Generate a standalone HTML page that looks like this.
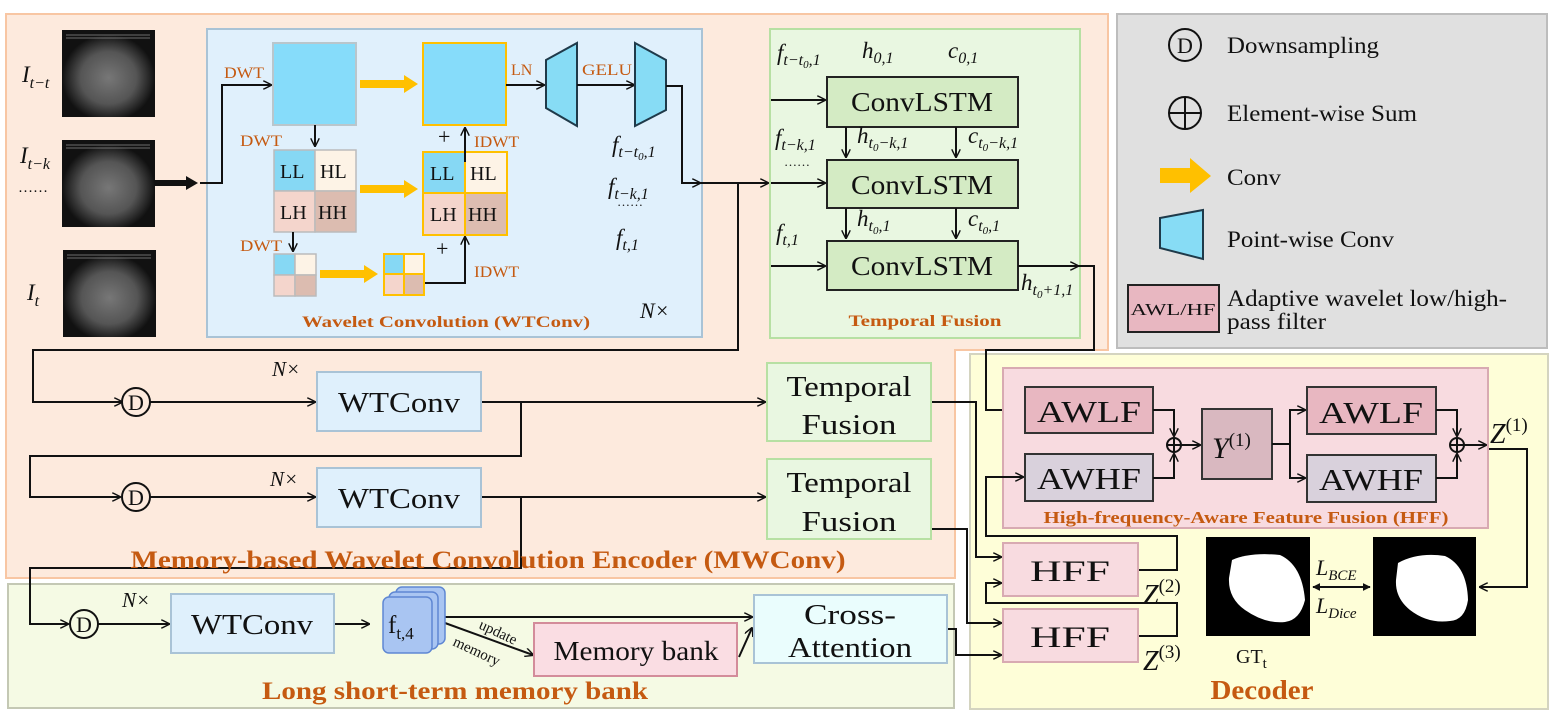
<!DOCTYPE html>
<html><head><meta charset="utf-8"><style>
html,body{margin:0;padding:0;background:#fff}
svg{display:block}
text{font-family:"Liberation Serif",serif;fill:#111}
.or{fill:#c55a11;font-weight:bold}
.m{font-style:italic}
</style></head><body>
<svg width="1551" height="712" viewBox="0 0 1551 712" xmlns="http://www.w3.org/2000/svg">
<defs>
<marker id="a" viewBox="0 0 10 10" refX="9" refY="5" markerWidth="9" markerHeight="9" orient="auto" markerUnits="userSpaceOnUse"><path d="M0,0 L10,5 L0,10" fill="none" stroke="#111" stroke-width="1.6"/></marker>
<marker id="as" viewBox="0 0 10 10" refX="9" refY="5" markerWidth="8" markerHeight="8" orient="auto-start-reverse" markerUnits="userSpaceOnUse"><path d="M0,0 L10,5 L0,10 z" fill="#111"/></marker>
<radialGradient id="us" cx="50%" cy="55%" r="50%"><stop offset="0" stop-color="#777"/><stop offset="0.6" stop-color="#555"/><stop offset="1" stop-color="#111"/></radialGradient>
<g id="yarr"><path d="M0,-4 L44,-4 L44,-9 L58,0 L44,9 L44,4 L0,4 z" fill="#ffc000"/></g>
</defs>

<path d="M6,14 H1108 V350 H955 V578 H6 Z" fill="#fdeadd" stroke="#f8c6a3" stroke-width="2"/>
<rect x="1117" y="14" width="430" height="334" fill="#e0e0e0" stroke="#bdbdbd" stroke-width="2"/>
<rect x="970" y="354" width="578" height="355" fill="#fefed8" stroke="#d4d4c0" stroke-width="2"/>
<rect x="8" y="584" width="946" height="124" fill="#f5fae4" stroke="#c4c8b4" stroke-width="2"/>
<rect x="207" y="29" width="495" height="308" fill="#e0f0fc" stroke="#a9c3d6" stroke-width="2"/>
<rect x="770" y="29" width="310" height="309" fill="#e9f7e1" stroke="#b7e0a3" stroke-width="2"/>

<g>
<rect x="62" y="30" width="93" height="87" fill="url(#us)"/>
<rect x="62" y="140" width="93" height="87" fill="url(#us)"/>
<rect x="63" y="250" width="93" height="87" fill="url(#us)"/>
<g stroke="#aaa" stroke-width="1" opacity="0.6">
<path d="M66,35 H150 M66,38 H150 M66,145 H150 M66,148 H150 M67,255 H151 M67,258 H151"/>
</g>
</g>
<text x="22" y="82" font-size="23" class="m">I<tspan font-size="16" dy="6">t−t</tspan></text>
<text x="20" y="163" font-size="23" class="m">I<tspan font-size="16" dy="6">t−k</tspan></text>
<text x="18" y="192" font-size="15">……</text>
<text x="27" y="300" font-size="23" class="m">I<tspan font-size="16" dy="6">t</tspan></text>
<path d="M155,183 H188" stroke="#111" stroke-width="6"/><path d="M186,176 L198,183 L186,190 z" fill="#111"/>
<path d="M200,183 H222 V85 H271" fill="none" stroke="#111" stroke-width="2" marker-end="url(#a)"/>

<text x="224" y="78" font-size="16" style="fill:#c55a11" textLength="40" lengthAdjust="spacingAndGlyphs">DWT</text>
<rect x="273" y="43" width="83" height="82" fill="#86dcfa" stroke="#b9c6cc" stroke-width="2"/>
<use href="#yarr" x="360" y="84"/>
<rect x="423" y="43" width="83" height="82" fill="#86dcfa" stroke="#ffc000" stroke-width="2"/>
<text x="511" y="75" font-size="16" style="fill:#c55a11">LN</text>
<path d="M506,85 H544" stroke="#111" stroke-width="2" marker-end="url(#a)"/>
<polygon points="546,60 577,43 577,126 546,108" fill="#87dcf5" stroke="#1f3a4a" stroke-width="2"/>
<text x="582" y="75" font-size="16" style="fill:#c55a11" textLength="50" lengthAdjust="spacingAndGlyphs">GELU</text>
<path d="M577,85 H634" stroke="#111" stroke-width="2" marker-end="url(#a)"/>
<polygon points="635,43 666,60 666,110 635,126" fill="#87dcf5" stroke="#1f3a4a" stroke-width="2"/>
<path d="M666,86 H682 V183 H700" fill="none" stroke="#111" stroke-width="2" marker-end="url(#a)"/>
<path d="M700,183 H768" fill="none" stroke="#111" stroke-width="2" marker-end="url(#a)"/>
<path d="M738,183 V350 H33 V402 H122" fill="none" stroke="#111" stroke-width="2" marker-end="url(#a)"/>

<text x="240" y="146" font-size="16" style="fill:#c55a11" textLength="42" lengthAdjust="spacingAndGlyphs">DWT</text>
<path d="M315,125 V146" stroke="#111" stroke-width="2" marker-end="url(#a)"/>
<g stroke="#bbb" stroke-width="1.5">
<rect x="274" y="150" width="41" height="41" fill="#86d8f4"/><rect x="315" y="150" width="41" height="41" fill="#fdf3e6"/>
<rect x="274" y="191" width="41" height="41" fill="#f4d5cc"/><rect x="315" y="191" width="41" height="41" fill="#dcbcb0"/>
</g>
<text x="280" y="178" font-size="20">LL</text><text x="320" y="178" font-size="20">HL</text>
<text x="280" y="219" font-size="20">LH</text><text x="318" y="219" font-size="20">HH</text>
<use href="#yarr" x="360" y="189"/>
<g stroke="#ffc000" stroke-width="2">
<rect x="423" y="152" width="42" height="41" fill="#86d8f4"/><rect x="465" y="152" width="42" height="41" fill="#fdf3e6"/>
<rect x="423" y="193" width="42" height="42" fill="#f4d5cc"/><rect x="465" y="193" width="42" height="42" fill="#dcbcb0"/>
</g>
<text x="430" y="180" font-size="20">LL</text><text x="470" y="180" font-size="20">HL</text>
<text x="430" y="221" font-size="20">LH</text><text x="468" y="221" font-size="20">HH</text>
<path d="M465,162 V128" stroke="#111" stroke-width="2" marker-end="url(#a)"/>
<text x="438" y="144" font-size="22">+</text>
<text x="474" y="147" font-size="16" style="fill:#c55a11" textLength="45" lengthAdjust="spacingAndGlyphs">IDWT</text>
<text x="240" y="251" font-size="16" style="fill:#c55a11" textLength="42" lengthAdjust="spacingAndGlyphs">DWT</text>
<path d="M293,232 V251" stroke="#111" stroke-width="2" marker-end="url(#a)"/>
<g stroke="#bbb" stroke-width="1.5">
<rect x="274" y="254" width="21" height="21" fill="#86d8f4"/><rect x="295" y="254" width="21" height="21" fill="#fdf3e6"/>
<rect x="274" y="275" width="21" height="21" fill="#f4d5cc"/><rect x="295" y="275" width="21" height="21" fill="#dcbcb0"/>
</g>
<path d="M320,270 H364 V265 L378,274 L364,283 V278 H320 z" fill="#ffc000"/>
<g stroke="#ffc000" stroke-width="2">
<rect x="384" y="254" width="20" height="20" fill="#86d8f4"/><rect x="404" y="254" width="20" height="20" fill="#fdf3e6"/>
<rect x="384" y="274" width="20" height="21" fill="#f4d5cc"/><rect x="404" y="274" width="20" height="21" fill="#dcbcb0"/>
</g>
<path d="M425,283 H465 V237" fill="none" stroke="#111" stroke-width="2" marker-end="url(#a)"/>
<text x="436" y="256" font-size="22">+</text>
<text x="474" y="277" font-size="16" style="fill:#c55a11" textLength="45" lengthAdjust="spacingAndGlyphs">IDWT</text>
<text x="612" y="152" font-size="23" class="m">f<tspan font-size="16" dy="5">t−t</tspan><tspan font-size="11" dy="3">0</tspan><tspan font-size="16" dy="-3">,1</tspan></text>
<text x="608" y="194" font-size="23" class="m">f<tspan font-size="16" dy="5">t−k,1</tspan></text>
<text x="617" y="206" font-size="13">……</text>
<text x="616" y="245" font-size="23" class="m">f<tspan font-size="16" dy="5">t,1</tspan></text>
<text x="640" y="318" font-size="22" class="m">N×</text>
<text x="446" y="327" font-size="16" text-anchor="middle" class="or" style="fill:#c55a11" textLength="288" lengthAdjust="spacingAndGlyphs">Wavelet Convolution (WTConv)</text>

<text x="777" y="60" font-size="23" class="m">f<tspan font-size="16" dy="5">t−t</tspan><tspan font-size="11" dy="3">0</tspan><tspan font-size="16" dy="-3">,1</tspan></text>
<text x="862" y="58" font-size="23" class="m">h<tspan font-size="16" dy="5">0,1</tspan></text>
<text x="948" y="58" font-size="23" class="m">c<tspan font-size="16" dy="5">0,1</tspan></text>
<g fill="#d4ebc4" stroke="#222" stroke-width="2">
<rect x="827" y="77" width="191" height="50"/><rect x="827" y="160" width="191" height="48"/><rect x="827" y="241" width="191" height="49"/>
</g>
<text x="922" y="111" font-size="27" text-anchor="middle" textLength="142" lengthAdjust="spacingAndGlyphs">ConvLSTM</text>
<text x="922" y="194" font-size="27" text-anchor="middle" textLength="142" lengthAdjust="spacingAndGlyphs">ConvLSTM</text>
<text x="922" y="275" font-size="27" text-anchor="middle" textLength="142" lengthAdjust="spacingAndGlyphs">ConvLSTM</text>
<g stroke="#111" stroke-width="2" fill="none">
<path d="M771,100 H825" marker-end="url(#a)"/><path d="M771,266 H825" marker-end="url(#a)"/><path d="M771,183 H825" marker-end="url(#a)"/>
<path d="M846,127 V157" marker-end="url(#a)"/><path d="M956,127 V157" marker-end="url(#a)"/>
<path d="M846,208 V238" marker-end="url(#a)"/><path d="M956,208 V238" marker-end="url(#a)"/>
<path d="M1018,266 H1078" marker-end="url(#a)"/>
<path d="M1078,266 H1094 V350 H986 V410 H1023" marker-end="url(#a)"/>
</g>
<text x="775" y="145" font-size="23" class="m">f<tspan font-size="16" dy="5">t−k,1</tspan></text>
<text x="784" y="166" font-size="13">……</text>
<text x="857" y="143" font-size="23" class="m">h<tspan font-size="16" dy="5">t</tspan><tspan font-size="11" dy="3">0</tspan><tspan font-size="16" dy="-3">−k,1</tspan></text>
<text x="968" y="143" font-size="23" class="m">c<tspan font-size="16" dy="5">t</tspan><tspan font-size="11" dy="3">0</tspan><tspan font-size="16" dy="-3">−k,1</tspan></text>
<text x="857" y="226" font-size="23" class="m">h<tspan font-size="16" dy="5">t</tspan><tspan font-size="11" dy="3">0</tspan><tspan font-size="16" dy="-3">,1</tspan></text>
<text x="968" y="226" font-size="23" class="m">c<tspan font-size="16" dy="5">t</tspan><tspan font-size="11" dy="3">0</tspan><tspan font-size="16" dy="-3">,1</tspan></text>
<text x="776" y="240" font-size="23" class="m">f<tspan font-size="16" dy="5">t,1</tspan></text>
<text x="1021" y="290" font-size="23" class="m">h<tspan font-size="16" dy="5">t</tspan><tspan font-size="11" dy="3">0</tspan><tspan font-size="16" dy="-3">+1,1</tspan></text>
<text x="925" y="326" font-size="16" text-anchor="middle" class="or" style="fill:#c55a11" textLength="153" lengthAdjust="spacingAndGlyphs">Temporal Fusion</text>

<circle cx="1185" cy="45" r="16" fill="none" stroke="#111" stroke-width="2"/>
<text x="1185" y="53" font-size="22" text-anchor="middle">D</text>
<text x="1227" y="53" font-size="23" textLength="152" lengthAdjust="spacingAndGlyphs">Downsampling</text>
<circle cx="1185" cy="113" r="16" fill="none" stroke="#111" stroke-width="2"/>
<path d="M1169,113 H1201 M1185,97 V129" stroke="#111" stroke-width="2"/>
<text x="1227" y="121" font-size="23" textLength="190" lengthAdjust="spacingAndGlyphs">Element-wise Sum</text>
<path d="M1160,168 H1190 V158 L1211,176 L1190,193 V183 H1160 z" fill="#ffc000"/>
<text x="1227" y="185" font-size="23" textLength="54" lengthAdjust="spacingAndGlyphs">Conv</text>
<polygon points="1160,218 1203,210 1203,259 1160,248" fill="#87dcf5" stroke="#1f3a4a" stroke-width="2"/>
<text x="1227" y="247" font-size="23" textLength="167" lengthAdjust="spacingAndGlyphs">Point-wise Conv</text>
<rect x="1128" y="285" width="91" height="47" fill="#e8b7c1" stroke="#222" stroke-width="2"/>
<text x="1173" y="315" font-size="17" text-anchor="middle" textLength="85" lengthAdjust="spacingAndGlyphs">AWL/HF</text>
<text x="1227" y="306" font-size="23" textLength="280" lengthAdjust="spacingAndGlyphs">Adaptive wavelet low/high-</text>
<text x="1227" y="329" font-size="23" textLength="99" lengthAdjust="spacingAndGlyphs">pass filter</text>

<g stroke="#111" stroke-width="2" fill="none">
<circle cx="136" cy="402" r="14" fill="#fdeadd"/>
<circle cx="136" cy="497" r="14" fill="#fdeadd"/>
<circle cx="84" cy="624" r="14" fill="#f5fae4"/>
<path d="M150,402 H315" marker-end="url(#a)"/>
<path d="M481,402 H765" marker-end="url(#a)"/>
<path d="M521,402 V456 H30 V497 H120" marker-end="url(#a)"/>
<path d="M150,497 H315" marker-end="url(#a)"/>
<path d="M481,497 H765" marker-end="url(#a)"/>
<path d="M521,497 V568 H30 V624 H68" marker-end="url(#a)"/>
<path d="M98,624 H169" marker-end="url(#a)"/>
<path d="M334,624 H369" marker-end="url(#a)"/>
<path d="M445,617 H752" marker-end="url(#a)"/>
<path d="M445,623 L533,655" marker-end="url(#a)"/>
<path d="M739,657 L752,628" marker-end="url(#a)"/>
<path d="M931,402 H976 V557 H1001" marker-end="url(#a)"/>
<path d="M931,529 H967 V623 H1001" marker-end="url(#a)"/>
<path d="M947,629 H956 V655 H1001" marker-end="url(#a)"/>
</g>
<text x="136" y="410" font-size="22" text-anchor="middle">D</text>
<text x="136" y="505" font-size="22" text-anchor="middle">D</text>
<text x="84" y="632" font-size="22" text-anchor="middle">D</text>
<g fill="#dff0fc" stroke="#a9c3d6" stroke-width="2">
<rect x="317" y="372" width="164" height="59"/><rect x="317" y="468" width="164" height="59"/><rect x="171" y="594" width="163" height="59"/>
</g>
<text x="399" y="412" font-size="29" text-anchor="middle" textLength="122" lengthAdjust="spacingAndGlyphs">WTConv</text>
<text x="399" y="508" font-size="29" text-anchor="middle" textLength="122" lengthAdjust="spacingAndGlyphs">WTConv</text>
<text x="252" y="634" font-size="29" text-anchor="middle" textLength="122" lengthAdjust="spacingAndGlyphs">WTConv</text>
<text x="272" y="376" font-size="21" class="m">N×</text>
<text x="270" y="486" font-size="21" class="m">N×</text>
<text x="122" y="607" font-size="21" class="m">N×</text>
<g fill="#e9f7e1" stroke="#b7e0a3" stroke-width="2">
<rect x="767" y="363" width="164" height="78"/><rect x="767" y="459" width="164" height="80"/>
</g>
<text x="849" y="396" font-size="29" text-anchor="middle" textLength="125" lengthAdjust="spacingAndGlyphs">Temporal</text>
<text x="849" y="434" font-size="29" text-anchor="middle" textLength="95" lengthAdjust="spacingAndGlyphs">Fusion</text>
<text x="849" y="492" font-size="29" text-anchor="middle" textLength="125" lengthAdjust="spacingAndGlyphs">Temporal</text>
<text x="849" y="531" font-size="29" text-anchor="middle" textLength="95" lengthAdjust="spacingAndGlyphs">Fusion</text>
<text x="488" y="568" font-size="25" text-anchor="middle" class="or" style="fill:#c55a11" textLength="715" lengthAdjust="spacingAndGlyphs">Memory-based Wavelet Convolution Encoder (MWConv)</text>

<g fill="#a9c5f2" stroke="#5f87d3" stroke-width="1.5">
<rect x="396" y="587" width="49" height="57" rx="6"/><rect x="389" y="592" width="49" height="57" rx="6"/><rect x="383" y="597" width="49" height="56" rx="6"/>
</g>
<text x="388" y="633" font-size="25">f<tspan font-size="17" dy="6">t,4</tspan></text>
<text x="478" y="628" font-size="15" transform="rotate(25 478 628)">update</text>
<text x="452" y="645" font-size="15" transform="rotate(25 452 645)">memory</text>
<rect x="534" y="623" width="203" height="53" fill="#fadde3" stroke="#d38c9a" stroke-width="2"/>
<text x="636" y="660" font-size="27" text-anchor="middle" textLength="165" lengthAdjust="spacingAndGlyphs">Memory bank</text>
<rect x="754" y="595" width="193" height="68" fill="#eafdfd" stroke="#a9c3d6" stroke-width="2"/>
<text x="850" y="624" font-size="29" text-anchor="middle" textLength="92" lengthAdjust="spacingAndGlyphs">Cross-</text>
<text x="850" y="657" font-size="29" text-anchor="middle" textLength="124" lengthAdjust="spacingAndGlyphs">Attention</text>
<text x="455" y="699" font-size="25" text-anchor="middle" class="or" style="fill:#c55a11" textLength="386" lengthAdjust="spacingAndGlyphs">Long short-term memory bank</text>

<rect x="1003" y="368" width="485" height="160" fill="#f8dbe0" stroke="#d8aab2" stroke-width="2"/>
<g stroke="#333" stroke-width="2">
<rect x="1025" y="387" width="128" height="46" fill="#e8b7c1"/>
<rect x="1025" y="454" width="128" height="47" fill="#d9d1dc"/>
<rect x="1202" y="409" width="70" height="70" fill="#d9b8c0"/>
<rect x="1307" y="387" width="129" height="47" fill="#e8b7c1"/>
<rect x="1307" y="455" width="129" height="47" fill="#d9d1dc"/>
</g>
<text x="1089" y="422" font-size="31" text-anchor="middle" textLength="104" lengthAdjust="spacingAndGlyphs">AWLF</text>
<text x="1089" y="489" font-size="31" text-anchor="middle" textLength="104" lengthAdjust="spacingAndGlyphs">AWHF</text>
<text x="1371" y="423" font-size="31" text-anchor="middle" textLength="104" lengthAdjust="spacingAndGlyphs">AWLF</text>
<text x="1371" y="490" font-size="31" text-anchor="middle" textLength="104" lengthAdjust="spacingAndGlyphs">AWHF</text>
<text x="1212" y="458" font-size="30" class="m">Y<tspan font-size="19" dy="-12" font-style="normal">(1)</tspan></text>
<g stroke="#111" stroke-width="2" fill="none">
<circle cx="1174" cy="445" r="7"/><path d="M1167,445 H1181 M1174,438 V452"/>
<circle cx="1457" cy="445" r="7"/><path d="M1450,445 H1464 M1457,438 V452"/>
<path d="M1153,410 H1174 V436" marker-end="url(#a)"/>
<path d="M1153,478 H1174 V454" marker-end="url(#a)"/>
<path d="M1181,445 H1200" marker-end="url(#a)"/>
<path d="M1272,444 H1290 V410 H1305" marker-end="url(#a)"/>
<path d="M1290,444 V478 H1305" marker-end="url(#a)"/>
<path d="M1436,410 H1457 V436" marker-end="url(#a)"/>
<path d="M1436,478 H1457 V454" marker-end="url(#a)"/>
<path d="M1464,445 H1486" marker-end="url(#a)"/>
<path d="M1489,449 H1527 V587 H1480" marker-end="url(#a)"/>
<path d="M1138,570 H1177 V536 H986 V477 H1023" marker-end="url(#a)"/>
<path d="M1138,636 H1177 V603 H986 V583 H1001" marker-end="url(#a)"/>
<path d="M1313,587 H1370" marker-start="url(#as)" marker-end="url(#as)"/>
</g>
<text x="1490" y="443" font-size="28" class="m">Z<tspan font-size="19" dy="-12" font-style="normal">(1)</tspan></text>
<text x="1246" y="523" font-size="17" text-anchor="middle" class="or" style="fill:#c55a11" textLength="405" lengthAdjust="spacingAndGlyphs">High-frequency-Aware Feature Fusion (HFF)</text>
<rect x="1003" y="543" width="135" height="53" fill="#f8dbe0" stroke="#d8aab2" stroke-width="2"/>
<rect x="1003" y="609" width="135" height="53" fill="#f8dbe0" stroke="#d8aab2" stroke-width="2"/>
<text x="1070" y="581" font-size="30" text-anchor="middle" textLength="80" lengthAdjust="spacingAndGlyphs">HFF</text>
<text x="1070" y="647" font-size="30" text-anchor="middle" textLength="80" lengthAdjust="spacingAndGlyphs">HFF</text>
<text x="1143" y="604" font-size="28" class="m">Z<tspan font-size="19" dy="-12" font-style="normal">(2)</tspan></text>
<text x="1143" y="670" font-size="28" class="m">Z<tspan font-size="19" dy="-12" font-style="normal">(3)</tspan></text>
<rect x="1206" y="537" width="104" height="99" fill="#000"/>
<path d="M1232,560 Q1250,552 1280,555 Q1302,565 1305,600 Q1300,620 1285,622 Q1265,624 1245,610 Q1228,598 1229,578 Z" fill="#fff"/>
<rect x="1373" y="537" width="103" height="99" fill="#000"/>
<path d="M1398,563 Q1418,552 1445,556 Q1467,566 1468,600 Q1465,620 1450,621 Q1428,624 1410,610 Q1395,598 1396,580 Z" fill="#fff"/>
<text x="1236" y="663" font-size="20">GT<tspan font-size="15" dy="5">t</tspan></text>
<text x="1316" y="575" font-size="22" class="m">L<tspan font-size="15" dy="5">BCE</tspan></text>
<text x="1316" y="613" font-size="22" class="m">L<tspan font-size="15" dy="5">Dice</tspan></text>
<text x="1262" y="699" font-size="27" text-anchor="middle" class="or" style="fill:#c55a11" textLength="103" lengthAdjust="spacingAndGlyphs">Decoder</text>
</svg>
</body></html>
